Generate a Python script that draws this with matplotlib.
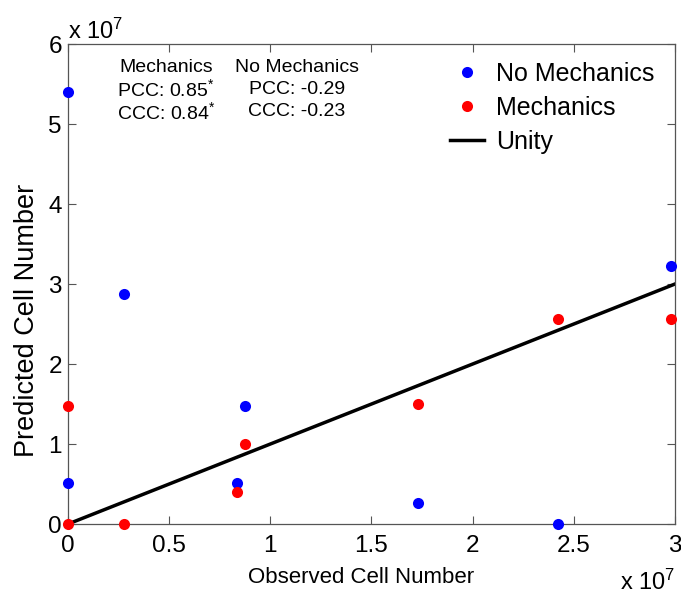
import matplotlib
matplotlib.use("Agg")
import matplotlib.pyplot as plt
from matplotlib.ticker import FuncFormatter, MultipleLocator

plt.rcParams["font.family"] = ["Liberation Sans", "DejaVu Sans"]
plt.rcParams["mathtext.fontset"] = "custom"
plt.rcParams["mathtext.rm"] = "Liberation Sans"
plt.rcParams["mathtext.it"] = "Liberation Sans"

# values (cell counts)
observed = [0.0, 0.0, 0.277e7, 0.834e7, 0.875e7, 1.73e7, 2.42e7, 2.98e7]
no_mech_pred = [5.40e7, 0.51e7, 2.875e7, 0.51e7, 1.48e7, 0.26e7, 0.0, 3.23e7]
mech_pred = [1.48e7, 0.0, 0.0, 0.40e7, 1.0e7, 1.50e7, 2.56e7, 2.56e7]
unity = [0.0, 3e7]

stats_mech = ["Mechanics", r"PCC: 0.85$^{*}$", r"CCC: 0.84$^{*}$"]
stats_nomech = ["No Mechanics", "PCC: -0.29", "CCC: -0.23"]

fig = plt.figure(figsize=(6.81, 5.95), dpi=100)
ax = fig.add_axes([0.0999, 0.1193, 0.8912, 0.8067])

ax.plot(observed, no_mech_pred, "o", color="#0000ff", ms=8, mec="none",
        label="No Mechanics", clip_on=False, zorder=3)
ax.plot(observed, mech_pred, "o", color="#ff0000", ms=8, mec="none",
        label="Mechanics", clip_on=False, zorder=3)
ax.plot(unity, unity, "-", color="black", lw=2.5, label="Unity", zorder=2)

ax.set_xlim(0, 3e7)
ax.set_ylim(0, 6e7)
ax.xaxis.set_major_locator(MultipleLocator(0.5e7))
ax.yaxis.set_major_locator(MultipleLocator(1e7))
fmt = FuncFormatter(lambda v, p: f"{v / 1e7:g}")
ax.xaxis.set_major_formatter(fmt)
ax.yaxis.set_major_formatter(fmt)

ax.tick_params(direction="in", length=6, width=0.8, color="#555555",
               labelsize=17.5, top=True, right=True)
ax.tick_params(axis="x", pad=8)
ax.tick_params(axis="y", pad=4.5)
for s in ax.spines.values():
    s.set_color("#555555")
    s.set_linewidth(0.9)

ax.set_xlabel("Observed Cell Number", fontsize=16)
ax.xaxis.set_label_coords(0.483, -0.09)
ax.set_ylabel("Predicted Cell Number", fontsize=19.5)
ax.yaxis.set_label_coords(-0.046, 0.425)

fig.text(68 / 681, 1 - 31 / 595, r"x 10$^{7}$", fontsize=17, va="center")
fig.text(620 / 681, 1 - 582 / 595, r"x 10$^{7}$", fontsize=17, va="center")

# correlation summary
for i, (a, b) in enumerate(zip(stats_mech, stats_nomech)):
    y = 1 - (67 + i * 22.5) / 595
    fig.text(166 / 681, y, a, fontsize=14, ha="center", va="center")
    fig.text(297 / 681, y, b, fontsize=14, ha="center", va="center")

ax.legend(loc="upper right", bbox_to_anchor=(0.995, 1.0), frameon=False,
          fontsize=18, handlelength=1.35, handletextpad=0.5, labelspacing=0.4,
          borderaxespad=0.3)

fig.savefig("out.png", dpi=100, facecolor="white")
